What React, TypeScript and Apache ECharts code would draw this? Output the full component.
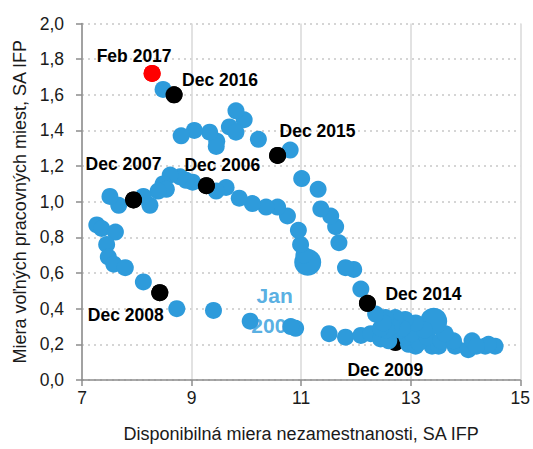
import React, { useEffect, useRef } from "react";
import * as echarts from "echarts";

// Disponibilná miera nezamestnanosti (x) a miera voľných pracovných miest (y), mesačne od Jan 2006
const unemployment: number[] = [
  // 2006
  10.90, 11.12, 11.05, 10.99, 10.95, 10.75, 10.57, 10.36, 10.11, 9.87, 9.63, 9.45, 9.27,
  // 2007
  9.02, 8.90, 8.79, 8.61, 8.48, 8.54, 8.39, 8.24, 8.12, 7.94,
  // 2008
  7.67, 7.51, 7.27, 7.36, 7.61, 7.45, 7.48, 7.58, 7.79, 8.12, 8.42,
  // 2009
  8.73, 9.40, 10.07, 10.81, 11.51, 11.81, 12.09, 12.27, 12.45, 12.72,
  // 2010 - 2014
  12.60, 12.96, 13.09, 13.21, 13.39, 13.51, 13.15, 12.93, 13.02, 12.80, 13.30, 13.55, 13.81,
  14.05, 14.12, 14.36, 14.54, 14.42, 14.20, 13.78, 13.63, 13.42, 13.25, 13.09, 12.90, 12.85,
  12.72, 12.65, 12.54, 12.56, 12.45, 12.50, 12.36, 12.21,
  // 2015
  12.09, 11.96, 11.81, 11.69, 11.63, 11.54, 11.36, 11.31, 11.01, 10.80, 10.57,
  // 2016
  10.22, 9.96, 9.81, 9.69, 9.81, 9.46, 9.45, 9.33, 9.05, 8.81, 8.68,
  // 2017
  8.48, 8.28,
];

const vacancies: number[] = [
  // 2006
  0.29, 0.66, 0.70, 0.76, 0.84, 0.92, 0.97, 0.97, 0.99, 1.02, 1.08, 1.06, 1.09,
  // 2007
  1.11, 1.12, 1.14, 1.15, 1.10, 1.07, 1.06, 0.98, 1.03, 1.01,
  // 2008
  0.98, 1.03, 0.87, 0.85, 0.83, 0.76, 0.69, 0.65, 0.63, 0.55, 0.49,
  // 2009
  0.40, 0.39, 0.33, 0.30, 0.26, 0.24, 0.25, 0.26, 0.23, 0.21,
  // 2010 - 2014
  0.22, 0.20, 0.19, 0.22, 0.19, 0.19, 0.21, 0.24, 0.26, 0.28, 0.24, 0.22, 0.19,
  0.17, 0.22, 0.19, 0.19, 0.20, 0.19, 0.22, 0.26, 0.33, 0.28, 0.32, 0.34, 0.29,
  0.35, 0.30, 0.35, 0.28, 0.29, 0.32, 0.37, 0.43,
  // 2015
  0.51, 0.62, 0.63, 0.77, 0.86, 0.92, 0.96, 1.07, 1.13, 1.29, 1.26,
  // 2016
  1.35, 1.46, 1.51, 1.42, 1.39, 1.34, 1.31, 1.39, 1.40, 1.37, 1.60,
  // 2017
  1.63, 1.72,
];

// Označené body (index do polí vyššie) a ich texty
const labelIndex: number[] = [0, 12, 22, 33, 43, 77, 88, 99, 101];
const labelText: string[] = [
  "Jan\n2006", "Dec 2006", "Dec 2007", "Dec 2008", "Dec 2009",
  "Dec 2014", "Dec 2015", "Dec 2016", "Feb 2017",
];
// Väčšie bubliny
const largeIndex: number[] = [1, 65];

const yTicks: number[] = [0, 0.2, 0.4, 0.6, 0.8, 1.0, 1.2, 1.4, 1.6, 1.8, 2.0];

const BLUE = "#2E9BDB";
const FONT = "'Liberation Sans Narrow', 'Arial Narrow', 'Liberation Sans', Arial, sans-serif";

const labelOffsets: Record<string, [number, number]> = {
  "Jan\n2006": [-21, -18],
  "Dec 2006": [16, -21],
  "Dec 2007": [-10, -36],
  "Dec 2008": [-34, 22],
  "Dec 2009": [-10, 27],
  "Dec 2014": [56, -9],
  "Dec 2015": [40, -24],
  "Dec 2016": [46, -15],
  "Feb 2017": [-18, -17],
};

const LABEL_SIZE = 17.5;
const AXIS_SIZE = 17.5;

export default function App() {
  const ref = useRef<HTMLDivElement>(null);

  useEffect(() => {
    if (!ref.current) return;
    const chart = echarts.init(ref.current, undefined, { renderer: "svg" });

    const n = unemployment.length;
    const mainData = [];
    for (let i = 0; i < n; i++) {
      const li = labelIndex.indexOf(i);
      const text = li >= 0 ? labelText[li] : "";
      let color = BLUE;
      if (text === "Feb 2017") color = "#FF0000";
      else if (text && text.startsWith("Dec")) color = "#000000";
      const item: any = {
        value: [unemployment[i], vacancies[i]],
        symbolSize: largeIndex.includes(i) ? 27 : 17,
        itemStyle: { color },
      };
      if (text === "Dec 2009") {
        item.label = {
          show: true,
          formatter: text,
          position: "inside",
          offset: labelOffsets[text],
          color: "#000",
          fontWeight: "bold",
          fontSize: LABEL_SIZE,
          fontFamily: FONT,
        };
      }
      mainData.push(item);
    }

    const topData = labelIndex
      .map((idx, k) => ({ idx, text: labelText[k] }))
      .filter((d) => d.text !== "Dec 2009" && d.text !== "Jan\n2006")
      .map((d) => ({
        value: [unemployment[d.idx], vacancies[d.idx]],
        symbolSize: 17,
        itemStyle: { color: d.text === "Feb 2017" ? "#FF0000" : "#000000" },
        label: {
          show: true,
          formatter: d.text,
          position: "inside",
          offset: labelOffsets[d.text],
          color: "#000",
          fontWeight: "bold",
          fontSize: LABEL_SIZE,
          fontFamily: FONT,
        },
      }));

    const janIdx = labelIndex[0];
    const janData = [
      {
        value: [unemployment[janIdx], vacancies[janIdx]],
        symbolSize: 1,
        itemStyle: { color: "rgba(0,0,0,0)" },
        label: {
          show: true,
          formatter: labelText[0],
          position: "inside",
          offset: labelOffsets[labelText[0]],
          color: BLUE,
          fontWeight: "bold",
          fontSize: 21,
          lineHeight: 30,
          align: "center",
          fontFamily: FONT,
        },
      },
    ];

    chart.setOption({
      animation: false,
      textStyle: { fontFamily: FONT },
      grid: { left: 82, right: 11, top: 23.5, bottom: 69 },
      xAxis: {
        type: "value",
        min: 7,
        max: 15,
        interval: 2,
        name: "Disponibilná miera nezamestnanosti, SA IFP",
        nameLocation: "middle",
        nameGap: 45,
        nameTextStyle: { fontSize: 18, color: "#1a1a1a", fontFamily: FONT },
        axisLine: { show: true, lineStyle: { color: "#8c8c8c", width: 1.5 } },
        axisTick: { show: true, length: 6, lineStyle: { color: "#8c8c8c", width: 1.5 } },
        axisLabel: { fontSize: AXIS_SIZE, color: "#1a1a1a", margin: 9, fontFamily: FONT },
        splitLine: { show: true, lineStyle: { color: "#d9d9d9", width: 1.5, type: "solid" } },
      },
      yAxis: {
        type: "value",
        min: yTicks[0],
        max: yTicks[yTicks.length - 1],
        interval: 0.2,
        name: "Miera voľných pracovných miest, SA IFP",
        nameLocation: "middle",
        nameGap: 53,
        nameTextStyle: { fontSize: 18, color: "#1a1a1a", fontFamily: FONT },
        axisLine: { show: true, lineStyle: { color: "#8c8c8c", width: 1.5 } },
        axisTick: { show: true, length: 6, lineStyle: { color: "#8c8c8c", width: 1.5 } },
        axisLabel: {
          fontSize: AXIS_SIZE,
          color: "#1a1a1a",
          margin: 18,
          fontFamily: FONT,
          formatter: (v: number) => v.toFixed(1).replace(".", ","),
        },
        splitLine: { show: true, lineStyle: { color: "#c8c8c8", width: 1.5, type: [2, 4] } },
      },
      series: [
        {
          type: "scatter",
          z: 1,
          data: janData,
          silent: true,
        },
        {
          type: "scatter",
          z: 2,
          data: mainData,
          itemStyle: { opacity: 1 },
        },
        {
          type: "scatter",
          z: 3,
          data: topData,
          itemStyle: { opacity: 1 },
        },
      ],
    });

    return () => chart.dispose();
  }, []);

  return <div ref={ref} style={{ width: 533, height: 449, position: "absolute", left: 0, top: 0 }} />;
}
